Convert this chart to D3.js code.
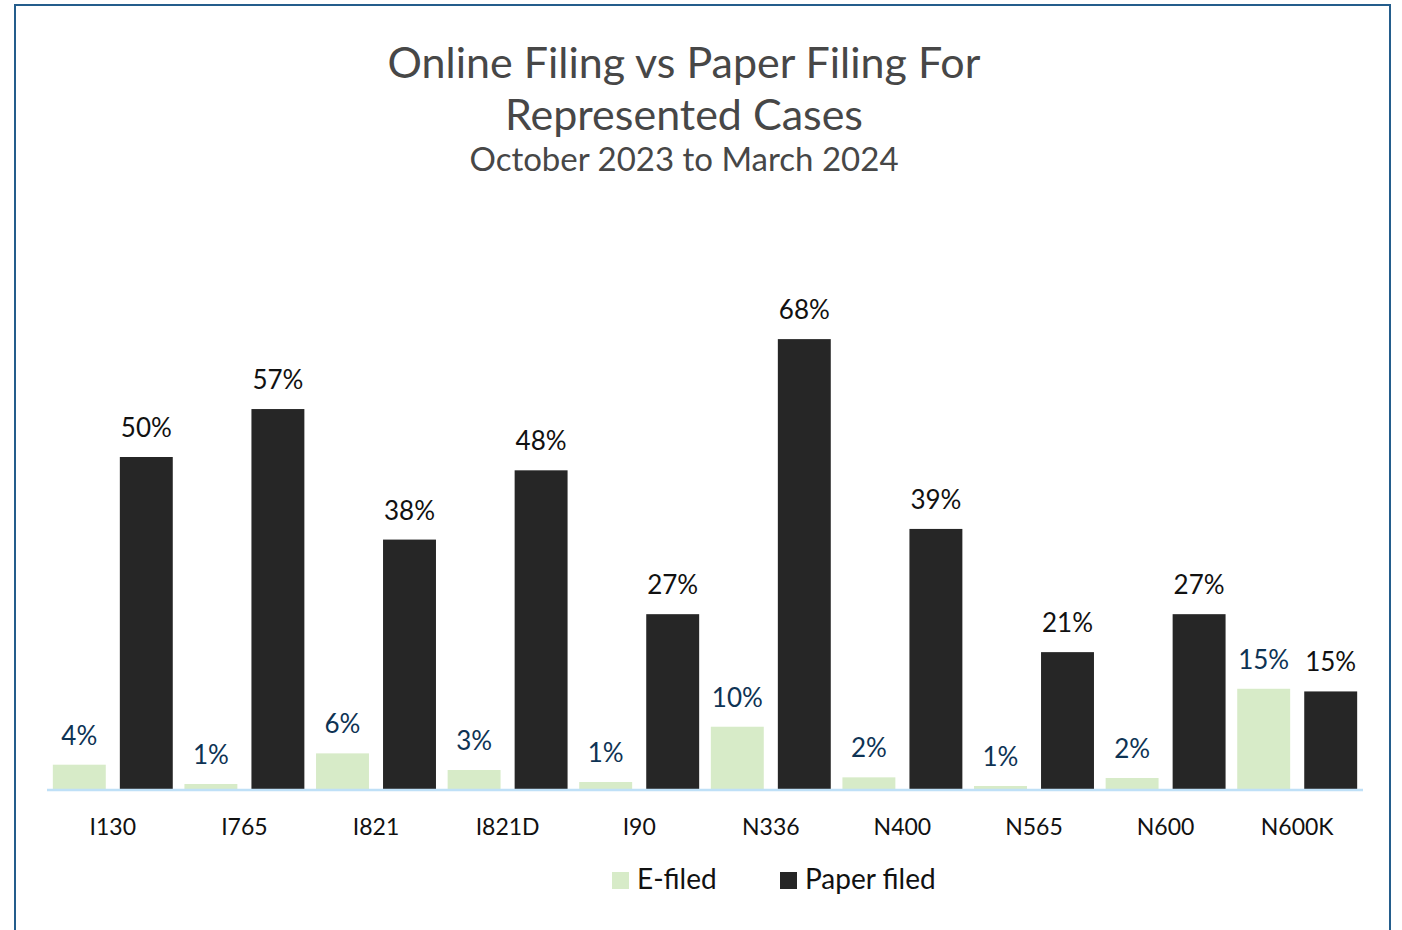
<!DOCTYPE html>
<html>
<head>
<meta charset="utf-8">
<script src="https://cdn.jsdelivr.net/npm/d3@7"></script>
<style>
  body { margin: 0; background: #fff; }
  svg { display: block; font-family: Lato, 'Noto Sans', sans-serif; }
</style>
</head>
<body>
<div id="chart"></div>
<script>
const categories = ['I130', 'I765', 'I821', 'I821D', 'I90', 'N336', 'N400', 'N565', 'N600', 'N600K'];
const seriesNames = ['E-filed', 'Paper filed'];
// bar heights (percent)
const eFiled = [3.8, 0.9, 5.5, 3.0, 1.2, 9.5, 1.9, 0.6, 1.8, 15.2];
const paperFiled = [50.0, 57.2, 37.6, 48.0, 26.4, 67.7, 39.2, 20.7, 26.4, 14.8];
// printed data labels
const eFiledLabels = ['4%', '1%', '6%', '3%', '1%', '10%', '2%', '1%', '2%', '15%'];
const paperLabels = ['50%', '57%', '38%', '48%', '27%', '68%', '39%', '21%', '27%', '15%'];
const titleLines = ['Online Filing vs Paper Filing For', 'Represented Cases'];

const W = 1402, H = 930;
const plot = { left: 47, right: 1363, bottom: 790 };
const pxPerPct = 6.66;
const colors = ['#d7ebc8', '#262626'];
const labelColors = ['#0e3354', '#111111'];

const data = categories.map((c, i) => ({
  cat: c,
  vals: [
    { key: seriesNames[0], v: eFiled[i], label: eFiledLabels[i] },
    { key: seriesNames[1], v: paperFiled[i], label: paperLabels[i] }
  ]
}));

const svg = d3.select('#chart')
  .append('svg')
  .attr('width', W)
  .attr('height', H);

// frame
svg.append('rect')
  .attr('x', 15).attr('y', 5)
  .attr('width', 1375).attr('height', 960)
  .attr('fill', 'none')
  .attr('stroke', '#245d8c')
  .attr('stroke-width', 2);

// titles
const titleX = 684;
svg.selectAll('.title')
  .data(titleLines)
  .enter()
  .append('text')
  .attr('class', 'title')
  .attr('x', titleX)
  .attr('y', (d, i) => 78 + i * 52)
  .attr('text-anchor', 'middle').attr('fill', '#474747')
  .attr('font-size', 43)
  .text(d => d);
svg.append('text').attr('x', titleX).attr('y', 171)
  .attr('text-anchor', 'middle').attr('fill', '#474747')
  .attr('font-size', 33).text('October 2023 to March 2024');

const x0 = d3.scaleBand()
  .domain(categories)
  .range([plot.left, plot.right])
  .padding(0);

const x1 = d3.scaleBand()
  .domain(seriesNames)
  .range([0, x0.bandwidth()])
  .paddingInner(0.21)
  .paddingOuter(0.087);

const y = d3.scaleLinear()
  .domain([0, 100])
  .range([plot.bottom, plot.bottom - 100 * pxPerPct]);

const groups = svg.selectAll('.group')
  .data(data)
  .enter()
  .append('g')
  .attr('class', 'group')
  .attr('transform', d => 'translate(' + x0(d.cat) + ',0)');

groups.selectAll('rect')
  .data(d => d.vals)
  .enter()
  .append('rect')
  .attr('x', d => x1(d.key))
  .attr('y', d => y(d.v))
  .attr('width', x1.bandwidth())
  .attr('height', d => y(0) - y(d.v))
  .attr('fill', (d, i) => colors[i]);

groups.selectAll('.val')
  .data(d => d.vals)
  .enter()
  .append('text')
  .attr('class', 'val')
  .attr('x', d => x1(d.key) + x1.bandwidth() / 2)
  .attr('y', d => y(d.v) - 20)
  .attr('text-anchor', 'middle')
  .attr('font-size', 26)
  .attr('fill', (d, i) => labelColors[i])
  .text(d => d.label);

// baseline
svg.append('line')
  .attr('x1', plot.left).attr('x2', plot.right)
  .attr('y1', y(0)).attr('y2', y(0))
  .attr('stroke', '#bfe0f7')
  .attr('stroke-width', 2.5);

// category axis
const xAxis = svg.append('g')
  .attr('transform', 'translate(0,' + y(0) + ')')
  .call(d3.axisBottom(x0).tickSize(0).tickPadding(29));
xAxis.select('.domain').remove();
xAxis.selectAll('text')
  .attr('font-family', 'Lato, sans-serif')
  .attr('font-size', 23)
  .attr('fill', '#111');

// legend
const legendX = [612, 780];
const legend = svg.selectAll('.legend')
  .data(seriesNames)
  .enter()
  .append('g')
  .attr('class', 'legend')
  .attr('transform', (d, i) => 'translate(' + legendX[i] + ',872)');
legend.append('rect')
  .attr('width', 17).attr('height', 17)
  .attr('fill', (d, i) => colors[i]);
legend.append('text')
  .attr('x', 25).attr('y', 17)
  .attr('font-size', 28)
  .attr('fill', '#111')
  .text(d => d);
</script>
</body>
</html>
